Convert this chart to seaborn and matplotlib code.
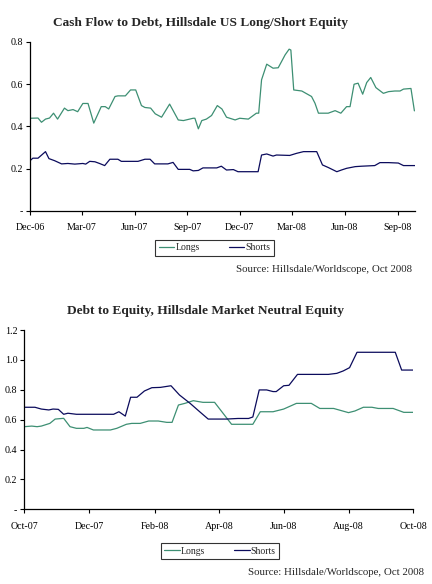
import matplotlib
matplotlib.use("Agg")
import matplotlib.pyplot as plt
import matplotlib.dates as mdates
import seaborn as sns
import pandas as pd

# Cash Flow to Debt, Hillsdale US Long/Short Equity
cf_long_dates = ["2006-12-01", "2006-12-15", "2006-12-21", "2006-12-28", "2007-01-04", "2007-01-11",
                 "2007-01-18", "2007-01-30", "2007-02-05", "2007-02-14", "2007-02-22", "2007-03-03",
                 "2007-03-12", "2007-03-22", "2007-04-04", "2007-04-11", "2007-04-17", "2007-04-28",
                 "2007-05-03", "2007-05-16", "2007-05-25", "2007-06-03", "2007-06-13", "2007-06-19",
                 "2007-06-29", "2007-07-07", "2007-07-18", "2007-08-01", "2007-08-16", "2007-08-25",
                 "2007-09-11", "2007-09-14", "2007-09-20", "2007-09-26", "2007-10-04", "2007-10-13",
                 "2007-10-23", "2007-10-31", "2007-11-08", "2007-11-23", "2007-12-01", "2007-12-16",
                 "2007-12-30", "2008-01-03", "2008-01-08", "2008-01-17", "2008-01-28", "2008-02-06",
                 "2008-02-18", "2008-02-25", "2008-02-28", "2008-03-04", "2008-03-18", "2008-04-04",
                 "2008-04-10", "2008-04-16", "2008-05-03", "2008-05-15", "2008-05-25", "2008-06-04",
                 "2008-06-10", "2008-06-17", "2008-06-24", "2008-07-02", "2008-07-09", "2008-07-16",
                 "2008-07-25", "2008-08-07", "2008-08-16", "2008-08-27", "2008-09-05", "2008-09-11",
                 "2008-09-24", "2008-09-30"]
cf_longs = [0.439, 0.440, 0.420, 0.435, 0.440, 0.463,
            0.435, 0.487, 0.475, 0.480, 0.470, 0.509,
            0.509, 0.416, 0.494, 0.494, 0.483, 0.542,
            0.545, 0.545, 0.573, 0.573, 0.499, 0.490,
            0.487, 0.460, 0.444, 0.506, 0.431, 0.428,
            0.439, 0.439, 0.389, 0.428, 0.435, 0.452,
            0.499, 0.483, 0.444, 0.431, 0.439, 0.435,
            0.463, 0.463, 0.621, 0.695, 0.676, 0.678,
            0.739, 0.766, 0.762, 0.573, 0.568, 0.542,
            0.510, 0.463, 0.463, 0.475, 0.463, 0.494,
            0.494, 0.600, 0.605, 0.553, 0.608, 0.632,
            0.584, 0.557, 0.565, 0.568, 0.568, 0.577,
            0.580, 0.474]

cf_short_dates = ["2006-12-01", "2006-12-06", "2006-12-15", "2006-12-28", "2007-01-03", "2007-01-13",
                  "2007-01-25", "2007-02-05", "2007-02-17", "2007-03-03", "2007-03-08", "2007-03-15",
                  "2007-03-24", "2007-04-01", "2007-04-10", "2007-04-19", "2007-05-03", "2007-05-09",
                  "2007-06-07", "2007-06-19", "2007-06-28", "2007-07-06", "2007-07-29", "2007-08-07",
                  "2007-08-16", "2007-09-05", "2007-09-11", "2007-09-20", "2007-09-28", "2007-10-22",
                  "2007-10-30", "2007-11-08", "2007-11-20", "2007-11-28", "2008-01-02", "2008-01-08",
                  "2008-01-17", "2008-01-28", "2008-02-03", "2008-02-26", "2008-03-09", "2008-03-21",
                  "2008-04-13", "2008-04-23", "2008-05-03", "2008-05-18", "2008-05-26", "2008-06-04",
                  "2008-06-19", "2008-06-30", "2008-07-23", "2008-08-01", "2008-08-16", "2008-09-02",
                  "2008-09-11", "2008-10-01"]
cf_shorts = [0.238, 0.250, 0.250, 0.281, 0.248, 0.238,
             0.223, 0.225, 0.222, 0.225, 0.222, 0.235,
             0.233, 0.225, 0.215, 0.245, 0.245, 0.235,
             0.235, 0.245, 0.245, 0.223, 0.223, 0.230,
             0.197, 0.197, 0.190, 0.192, 0.204, 0.204,
             0.212, 0.194, 0.196, 0.186, 0.186, 0.265,
             0.270, 0.260, 0.265, 0.263, 0.273, 0.281,
             0.281, 0.218, 0.206, 0.186, 0.194, 0.202,
             0.210, 0.212, 0.215, 0.229, 0.229, 0.227,
             0.215, 0.215]

# Debt to Equity, Hillsdale Market Neutral Equity
de_long_dates = ["2007-10-01", "2007-10-08", "2007-10-13", "2007-10-17", "2007-10-25", "2007-10-30",
                 "2007-11-07", "2007-11-13", "2007-11-19", "2007-11-26", "2007-11-29", "2007-12-05",
                 "2007-12-21", "2007-12-27", "2008-01-05", "2008-01-10", "2008-01-18", "2008-01-26",
                 "2008-02-04", "2008-02-12", "2008-02-17", "2008-02-23", "2008-02-29", "2008-03-08",
                 "2008-03-17", "2008-03-28", "2008-04-13", "2008-05-03", "2008-05-10", "2008-05-22",
                 "2008-06-01", "2008-06-13", "2008-06-27", "2008-07-05", "2008-07-18", "2008-08-01",
                 "2008-08-07", "2008-08-15", "2008-08-23", "2008-08-29", "2008-09-12", "2008-09-22",
                 "2008-10-01"]
de_longs = [0.553, 0.557, 0.553, 0.557, 0.575, 0.604,
            0.609, 0.553, 0.542, 0.542, 0.548, 0.531,
            0.531, 0.542, 0.569, 0.575, 0.575, 0.591,
            0.591, 0.582, 0.582, 0.698, 0.709, 0.727,
            0.716, 0.716, 0.569, 0.569, 0.653, 0.653,
            0.671, 0.709, 0.709, 0.675, 0.675, 0.647,
            0.658, 0.683, 0.683, 0.675, 0.675, 0.649,
            0.649]

de_short_dates = ["2007-10-01", "2007-10-11", "2007-10-17", "2007-10-24", "2007-10-28", "2007-11-02",
                  "2007-11-07", "2007-11-11", "2007-11-19", "2007-12-24", "2007-12-29", "2008-01-04",
                  "2008-01-09", "2008-01-15", "2008-01-22", "2008-01-29", "2008-02-06", "2008-02-16",
                  "2008-02-24", "2008-03-05", "2008-03-14", "2008-03-22", "2008-04-08", "2008-04-19",
                  "2008-04-29", "2008-05-03", "2008-05-09", "2008-05-16", "2008-05-22", "2008-05-25",
                  "2008-06-01", "2008-06-06", "2008-06-14", "2008-07-13", "2008-07-21", "2008-07-27",
                  "2008-08-02", "2008-08-09", "2008-09-14", "2008-09-20", "2008-10-01"]
de_shorts = [0.683, 0.683, 0.671, 0.665, 0.671, 0.669,
             0.636, 0.643, 0.636, 0.636, 0.653, 0.624,
             0.750, 0.750, 0.792, 0.814, 0.816, 0.827,
             0.765, 0.709, 0.653, 0.604, 0.604, 0.608,
             0.608, 0.618, 0.799, 0.799, 0.788, 0.788,
             0.827, 0.830, 0.903, 0.903, 0.910, 0.926,
             0.948, 1.051, 1.051, 0.932, 0.932]

GREEN = "#3d8f73"
NAVY = "#0b0b5c"
palette = {"Longs": GREEN, "Shorts": NAVY}


def make_frame(long_dates, longs, short_dates, shorts):
    a = pd.DataFrame({"date": pd.to_datetime(long_dates), "value": longs, "series": "Longs"})
    b = pd.DataFrame({"date": pd.to_datetime(short_dates), "value": shorts, "series": "Shorts"})
    return pd.concat([a, b], ignore_index=True)


df_top = make_frame(cf_long_dates, cf_longs, cf_short_dates, cf_shorts)
df_bot = make_frame(de_long_dates, de_longs, de_short_dates, de_shorts)

sns.set_style("ticks")
plt.rcParams["font.family"] = ["Liberation Serif", "DejaVu Serif"]

fig = plt.figure(figsize=(4.32, 5.84), dpi=100)
ax1 = fig.add_axes([0.0694, 0.6387, 0.8912, 0.2894])
ax2 = fig.add_axes([0.0563, 0.1279, 0.9005, 0.3070])


def style_axis(ax, yticks, ylabels, xlim, locator):
    ax.set_xlim(pd.Timestamp(xlim[0]), pd.Timestamp(xlim[1]))
    ax.set_ylim(yticks[0], yticks[-1])
    ax.set_yticks(yticks)
    ax.set_yticklabels(ylabels)
    ax.xaxis.set_major_locator(locator)
    ax.xaxis.set_major_formatter(mdates.DateFormatter("%b-%y"))
    for s in ["top", "right"]:
        ax.spines[s].set_visible(False)
    for s in ["left", "bottom"]:
        ax.spines[s].set_color("black")
        ax.spines[s].set_linewidth(0.9)
    ax.tick_params(axis="both", length=3, width=0.8, color="black", labelsize=7.2, labelcolor="black")
    ax.tick_params(axis="x", pad=6)
    ax.tick_params(axis="y", pad=2)
    ax.set_xlabel("")
    ax.set_ylabel("")
    ax.grid(False)


sns.lineplot(data=df_top, x="date", y="value", hue="series", palette=palette,
             linewidth=0.9, ax=ax1, legend=False)
style_axis(ax1, [0, 0.2, 0.4, 0.6, 0.8], ["-", "0.2", "0.4", "0.6", "0.8"],
           ("2006-12-01", "2008-10-01"), mdates.MonthLocator(bymonth=[3, 6, 9, 12]))

sns.lineplot(data=df_bot, x="date", y="value", hue="series", palette=palette,
             linewidth=0.9, ax=ax2, legend=False)
style_axis(ax2, [0, 0.2, 0.4, 0.6, 0.8, 1.0, 1.2],
           ["-", "0.2", "0.4", "0.6", "0.8", "1.0", "1.2"],
           ("2007-10-01", "2008-10-01"), mdates.MonthLocator(bymonth=[2, 4, 6, 8, 10, 12]))

fig.text(0.465, 0.9606, "Cash Flow to Debt, Hillsdale US Long/Short Equity",
         ha="center", va="center", fontsize=9.6, fontweight="bold")
fig.text(0.476, 0.468, "Debt to Equity, Hillsdale Market Neutral Equity",
         ha="center", va="center", fontsize=9.6, fontweight="bold")

fig.text(0.954, 0.5377, "Source: Hillsdale/Worldscope, Oct 2008",
         ha="right", va="center", fontsize=7.8)
fig.text(0.981, 0.0205, "Source: Hillsdale/Worldscope, Oct 2008",
         ha="right", va="center", fontsize=7.8)

handles = [plt.Line2D([], [], color=GREEN, lw=0.9), plt.Line2D([], [], color=NAVY, lw=0.9)]
for anchor, labels in [((0.4965, 0.576), ["Longs", "Shorts"]), ((0.509, 0.0565), ["Longs", "Shorts"])]:
    leg = fig.legend(handles, labels, loc="center", bbox_to_anchor=anchor, ncol=2,
                     fontsize=7, frameon=True, fancybox=False, handlelength=1.6,
                     handletextpad=0.1, columnspacing=3.0, borderpad=0.35, borderaxespad=0)
    leg.get_frame().set_edgecolor("black")
    leg.get_frame().set_linewidth(0.8)

fig.savefig("out.png", dpi=100)
